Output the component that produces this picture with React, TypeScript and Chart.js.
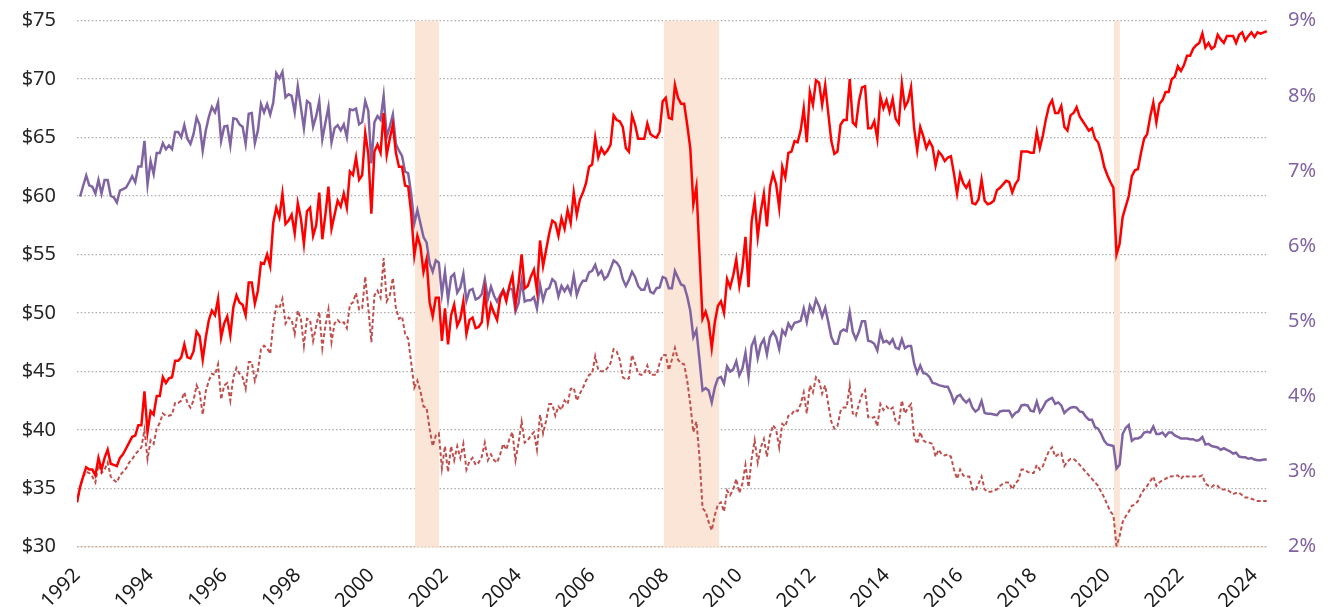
import React, { useEffect, useRef } from "react";
import { Chart, registerables } from "chart.js";

Chart.register(...registerables);

// ---------- data ----------
const START_YEAR = 1992;
const X_MIN = 1992;
const X_MAX = 2024.34;

const yearTicks = [1992, 1994, 1996, 1998, 2000, 2002, 2004, 2006, 2008, 2010, 2012, 2014, 2016, 2018, 2020, 2022, 2024];
const dollarTicks = [30, 35, 40, 45, 50, 55, 60, 65, 70, 75];
const percentTicks = [2, 3, 4, 5, 6, 7, 8, 9];

const recessionStart = [2001.18, 2007.95, 2020.18];
const recessionEnd = [2001.84, 2009.45, 2020.34];

// monthly values from Jan 1992 (left axis, $)
const redSeries = [
  33.8, 35.1, 36.0, 36.8, 36.6, 36.6, 36.1, 37.6, 36.6, 37.6, 38.3, 37.1,
  37.0, 36.9, 37.6, 37.9, 38.4, 38.9, 39.4, 39.5, 40.4, 40.4, 43.3, 39.8,
  41.6, 41.3, 42.9, 42.9, 44.5, 44.0, 44.4, 44.5, 45.9, 45.9, 46.2, 47.3,
  46.2, 46.1, 46.7, 48.4, 48.0, 46.0, 47.9, 49.4, 50.2, 49.8, 51.2, 47.9,
  49.1, 49.7, 48.1, 50.5, 51.5, 50.9, 50.7, 49.8, 52.6, 52.6, 50.8, 51.9,
  54.3, 54.2, 55.0, 54.0, 57.7, 59.0, 58.2, 60.2, 57.6, 57.9, 58.4, 56.8,
  59.4, 58.1, 55.9, 58.7, 59.0, 56.6, 57.5, 60.3, 56.3, 58.4, 60.8, 57.2,
  58.4, 59.6, 59.1, 60.2, 59.0, 62.1, 61.8, 63.3, 61.4, 61.8, 65.4, 63.6,
  58.5, 63.8, 64.4, 63.7, 67.1, 63.5, 64.9, 66.1, 63.7, 62.5, 62.5, 60.9,
  60.8, 58.5, 54.9, 56.6, 55.7, 53.5, 54.6, 50.9, 49.7, 51.3, 51.3, 47.6,
  50.4, 47.3, 49.8, 50.7, 48.9, 49.5, 51.0, 48.2, 49.4, 49.6, 48.7, 48.8,
  49.2, 51.8, 49.2, 50.7, 50.0, 49.4, 51.3, 51.9, 51.0, 52.3, 53.2, 50.7,
  52.5, 55.0, 52.1, 52.3, 53.1, 53.7, 51.9, 56.2, 54.0, 55.4, 56.8, 57.9,
  57.7, 56.6, 58.1, 57.2, 58.8, 57.7, 60.3, 58.4, 59.7, 60.3, 61.1, 62.5,
  62.7, 65.0, 63.3, 64.1, 63.6, 63.9, 64.4, 66.9, 66.5, 66.4, 65.9, 64.1,
  63.8, 66.9, 66.1, 64.9, 64.9, 64.9, 66.2, 65.3, 65.1, 65.0, 65.5, 68.1,
  68.4, 66.7, 66.6, 69.5, 68.4, 67.9, 67.9, 66.1, 64.1, 59.3, 60.8, 55.1,
  49.5, 50.1, 49.2, 47.0, 49.2, 50.6, 51.0, 50.0, 52.9, 52.2, 53.2, 54.6,
  52.3, 53.8, 56.5, 52.2, 57.8, 59.6, 56.5, 58.7, 60.2, 57.4, 60.8, 61.9,
  61.0, 59.0, 62.5, 61.6, 63.7, 63.8, 64.7, 64.6, 65.6, 67.5, 64.6, 68.9,
  67.8, 69.9, 69.7, 67.8, 69.5, 67.1, 64.7, 63.6, 63.8, 66.1, 66.5, 66.5,
  70.0, 66.3, 66.0, 68.1, 69.3, 69.4, 65.8, 65.8, 66.4, 64.9, 68.5, 67.5,
  68.2, 67.2, 68.3, 66.6, 66.2, 69.6, 67.6, 68.1, 69.3, 65.8, 63.9, 65.9,
  65.1, 64.1, 64.7, 64.2, 62.6, 63.8, 63.5, 63.0, 63.3, 63.4, 61.9, 60.2,
  61.9, 61.1, 60.7, 61.2, 59.4, 59.3, 59.7, 61.4, 59.6, 59.3, 59.4, 59.6,
  60.5, 60.7, 61.0, 61.3, 61.2, 60.3, 61.0, 61.4, 63.8, 63.8, 63.8, 63.7,
  63.7, 65.5, 64.1, 65.2, 66.6, 67.7, 68.2, 67.1, 67.1, 67.7, 65.9, 65.6,
  66.9, 67.1, 67.6, 66.8, 66.4, 66.0, 65.6, 65.8, 64.9, 64.6, 63.7, 62.5,
  61.8, 61.2, 60.7, 55.0, 55.9, 58.2, 59.1, 60.0, 61.7, 62.2, 62.3, 63.7,
  64.9, 65.3, 66.8, 68.0, 66.3, 67.9, 68.2, 68.9, 68.9, 70.0, 70.2, 71.1,
  70.7, 71.2, 72.0, 72.0, 72.6, 72.9, 73.1, 73.9, 72.7, 73.1, 72.6, 72.8,
  73.8, 73.4, 73.1, 73.7, 73.7, 73.7, 73.1, 73.8, 74.0, 73.3, 73.7, 74.0,
  73.6, 74.0, 73.9, 74.0, 74.1,
];

// monthly values from Jan 1992 (right axis, %)
const purpleSeries = [
  null, 6.66, 6.80, 6.94, 6.81, 6.79, 6.70, 6.88, 6.70, 6.88, 6.88, 6.67,
  6.65, 6.58, 6.74, 6.76, 6.78, 6.85, 6.93, 6.85, 7.06, 7.06, 7.40, 6.82,
  7.13, 6.96, 7.24, 7.24, 7.37, 7.29, 7.34, 7.29, 7.52, 7.52, 7.45, 7.61,
  7.43, 7.36, 7.49, 7.71, 7.61, 7.27, 7.54, 7.72, 7.85, 7.78, 7.91, 7.40,
  7.59, 7.60, 7.34, 7.70, 7.69, 7.62, 7.59, 7.36, 7.76, 7.77, 7.37, 7.54,
  7.89, 7.78, 7.89, 7.75, 7.91, 8.30, 8.23, 8.32, 7.98, 8.02, 8.00, 7.78,
  8.13, 7.85, 7.57, 7.93, 7.90, 7.59, 7.73, 7.93, 7.42, 7.64, 7.85, 7.38,
  7.57, 7.61, 7.54, 7.62, 7.45, 7.82, 7.81, 7.83, 7.62, 7.65, 7.93, 7.80,
  7.10, 7.65, 7.73, 7.68, 8.00, 7.45, 7.59, 7.75, 7.36, 7.27, 7.20, 6.99,
  6.97, 6.69, 6.30, 6.48, 6.30, 6.12, 6.05, 5.77, 5.66, 5.81, 5.78, 5.36,
  5.66, 5.29, 5.59, 5.63, 5.38, 5.45, 5.63, 5.27, 5.41, 5.43, 5.29, 5.31,
  5.36, 5.56, 5.30, 5.46, 5.34, 5.26, 5.35, 5.42, 5.33, 5.44, 5.42, 5.13,
  5.24, 5.54, 5.26, 5.28, 5.28, 5.32, 5.17, 5.49, 5.28, 5.42, 5.44, 5.56,
  5.52, 5.33, 5.47, 5.40, 5.47, 5.37, 5.61, 5.35, 5.47, 5.54, 5.54, 5.65,
  5.67, 5.75, 5.62, 5.67, 5.56, 5.60, 5.70, 5.81, 5.78, 5.72, 5.56, 5.47,
  5.55, 5.66, 5.59, 5.47, 5.42, 5.42, 5.54, 5.39, 5.37, 5.44, 5.45, 5.59,
  5.57, 5.44, 5.44, 5.67, 5.58, 5.49, 5.47, 5.33, 5.14, 4.79, 4.88, 4.49,
  4.08, 4.11, 4.08, 3.92, 4.12, 4.24, 4.26, 4.17, 4.40, 4.33, 4.36, 4.47,
  4.28, 4.37, 4.58, 4.26, 4.67, 4.77, 4.51, 4.69, 4.76, 4.56, 4.79, 4.86,
  4.79, 4.63, 4.88, 4.82, 4.97, 4.90, 4.98, 4.99, 5.01, 5.17, 4.99, 5.21,
  5.13, 5.29, 5.20, 5.06, 5.18, 4.99, 4.79, 4.70, 4.70, 4.86, 4.89, 4.87,
  5.12, 4.86, 4.76, 4.86, 5.00, 5.00, 4.74, 4.73, 4.70, 4.61, 4.85, 4.72,
  4.74, 4.70, 4.76, 4.65, 4.63, 4.76, 4.64, 4.67, 4.67, 4.44, 4.31, 4.41,
  4.31, 4.30, 4.26, 4.18, 4.17, 4.15, 4.14, 4.13, 4.13, 4.04, 3.92, 4.00,
  4.02, 3.96, 3.92, 3.96, 3.85, 3.80, 3.83, 3.94, 3.78, 3.77, 3.77, 3.76,
  3.75, 3.80, 3.81, 3.81, 3.81, 3.73, 3.78, 3.80, 3.88, 3.89, 3.88, 3.81,
  3.80, 3.93, 3.79, 3.85, 3.93, 3.96, 3.98, 3.90, 3.92, 3.88, 3.78, 3.82,
  3.85, 3.86, 3.85, 3.80, 3.79, 3.73, 3.69, 3.69, 3.59, 3.57, 3.50, 3.41,
  3.36, 3.35, 3.34, 3.04, 3.09, 3.50, 3.58, 3.62, 3.41, 3.44, 3.44, 3.46,
  3.52, 3.53, 3.52, 3.60, 3.50, 3.50, 3.52, 3.47, 3.52, 3.52, 3.48, 3.46,
  3.44, 3.44, 3.44, 3.43, 3.43, 3.41, 3.42, 3.46, 3.36, 3.37, 3.34, 3.33,
  3.32, 3.29, 3.31, 3.29, 3.27, 3.24, 3.25, 3.20, 3.19, 3.19, 3.17, 3.18,
  3.16, 3.15, 3.15, 3.16, 3.16,
];

// monthly values from Jan 1992 (left axis, $) — dashed series
const dashedSeries = [
  33.8, 35.1, 36.0, 36.4, 36.3, 36.0, 35.5, 37.0, 36.3, 36.6, 37.2, 36.0,
  35.7, 35.5, 36.1, 36.4, 36.7, 37.2, 37.5, 37.9, 38.2, 38.5, 40.0, 37.5,
  39.1, 38.8, 40.1, 40.6, 41.4, 41.2, 41.2, 41.3, 42.3, 42.3, 42.5, 43.2,
  42.3, 41.9, 42.5, 43.8, 43.2, 41.3, 43.3, 44.2, 44.8, 44.7, 45.6, 42.6,
  43.8, 44.0, 42.5, 44.5, 45.3, 44.8, 44.5, 43.5, 45.8, 45.8, 44.2, 45.1,
  46.9, 47.2, 47.0, 46.5, 49.0, 50.6, 50.4, 51.2, 49.1, 49.6, 49.4, 48.2,
  50.2, 49.5, 47.2, 49.5, 49.4, 47.6, 48.9, 50.1, 47.0, 48.9, 50.3, 47.5,
  49.1, 49.4, 49.1, 49.2, 48.7, 50.7, 50.9, 51.7, 50.3, 50.4, 53.1, 50.4,
  47.5, 51.5, 51.9, 51.3, 54.7, 51.0, 51.5, 53.0, 50.4, 49.5, 49.7, 48.2,
  47.8, 45.7, 43.6, 44.2, 43.3, 42.0, 41.9, 40.1, 38.6, 39.5, 39.7, 36.7,
  38.6, 36.4, 38.6, 37.4, 38.6, 37.6, 38.8, 36.6, 37.3, 37.6, 37.0, 37.2,
  37.7, 38.9, 37.4, 37.9, 37.4, 37.2, 37.9, 38.8, 38.3, 39.2, 39.8, 37.4,
  38.9, 40.7, 38.9, 39.1, 39.5, 39.8, 38.3, 41.3, 39.7, 40.8, 42.2, 42.2,
  41.2, 42.0, 41.7, 42.5, 42.2, 43.5, 43.6, 42.5, 43.1, 43.6, 44.2, 44.7,
  44.8, 46.3, 45.1, 45.0, 45.0, 45.3, 45.7, 46.9, 46.7, 46.0, 44.5, 44.3,
  44.4, 46.4, 45.7, 44.8, 44.7, 44.8, 45.5, 44.7, 44.7, 44.7, 45.7, 46.4,
  46.4, 45.1, 46.0, 47.0, 46.0, 45.7, 45.6, 44.2, 42.2, 39.8, 40.7, 37.7,
  33.3, 33.0, 32.1, 31.4, 32.7, 33.6, 33.8, 33.0, 34.8, 34.4, 34.9, 35.8,
  34.6, 35.4, 37.0, 35.1, 37.5, 39.1, 37.2, 38.5, 39.2, 37.7, 39.5, 40.4,
  40.0, 38.5, 40.5, 40.3, 41.2, 41.3, 41.7, 41.6, 42.2, 43.2, 41.4, 43.8,
  43.2, 44.5, 44.2, 43.1, 43.8, 42.2, 40.7, 40.1, 40.3, 41.6, 41.9, 41.9,
  43.8, 41.4, 41.2, 42.2, 43.0, 43.4, 41.1, 41.0, 41.1, 40.3, 42.2, 41.7,
  42.0, 41.7, 41.9, 40.7, 40.5, 42.5, 41.4, 41.9, 42.2, 39.4, 38.8, 39.8,
  39.1, 38.9, 38.9, 38.8, 37.7, 38.3, 37.9, 37.8, 37.9, 37.7, 36.6, 35.8,
  36.6, 36.1, 36.0, 36.0, 34.9, 34.8, 35.4, 36.0, 34.9, 34.7, 34.7, 34.8,
  34.9, 35.2, 35.4, 35.5, 35.5, 34.9, 35.4, 35.7, 36.6, 36.6, 36.4, 36.3,
  36.3, 37.0, 36.6, 36.9, 37.6, 38.2, 38.5, 37.7, 37.9, 38.0, 36.9, 37.3,
  37.5, 37.5, 37.3, 37.0, 36.7, 36.4, 36.1, 35.8, 35.5, 35.2, 34.7, 34.2,
  33.6, 33.0, 32.7, 30.05, 30.9, 32.1, 32.6, 33.0, 33.5, 33.6, 33.9, 34.5,
  34.9, 35.2, 35.6, 36.0, 35.2, 35.5, 35.7, 35.8, 36.0, 36.0, 36.1, 36.1,
  35.8, 36.1, 36.0, 36.0, 36.0, 36.0, 36.0, 36.1, 35.4, 35.2, 35.1, 35.3,
  35.2, 34.9, 34.9, 34.9, 34.7, 34.5, 34.6, 34.6, 34.4, 34.2, 34.2, 34.1,
  34.0, 33.9, 33.9, 33.9, 33.9,
];

// ---------- styling ----------
const RED = "#ff0000";
const PURPLE = "#8064a2";
const DASHED = "#c0504d";
const SHADE = "#fbe5d6";
const FONT = "'Noto Sans', 'Liberation Sans', sans-serif";

const toPoints = (arr: (number | null)[]) =>
  arr.map((v, i) => ({ x: START_YEAR + i / 12, y: v }));

const shadePlugin = {
  id: "recessionShade",
  beforeDraw(chart: any) {
    const { ctx, chartArea: a } = chart;
    ctx.save();
    ctx.fillStyle = SHADE;
    ctx.fillRect(a.left, a.bottom - 0.5, a.right - a.left, 1.5);
    ctx.restore();
  },
  beforeDatasetsDraw(chart: any) {
    const { ctx, chartArea: a, scales } = chart;
    const xs = scales.x;
    ctx.save();
    ctx.fillStyle = SHADE;
    recessionStart.forEach((s, i) => {
      const x0 = xs.getPixelForValue(s);
      const x1 = xs.getPixelForValue(recessionEnd[i]);
      ctx.fillRect(x0, a.top, x1 - x0, a.bottom - a.top);
    });
    ctx.restore();
  },
};

export default function App() {
  const ref = useRef<HTMLCanvasElement | null>(null);

  useEffect(() => {
    if (!ref.current) return;
    Chart.defaults.font.family = FONT;
    const chart = new Chart(ref.current, {
      type: "line",
      data: {
        datasets: [
          {
            data: toPoints(redSeries) as any,
            borderColor: RED,
            borderWidth: 2.5,
            yAxisID: "y",
            pointRadius: 0,
            tension: 0,
          },
          {
            data: toPoints(purpleSeries) as any,
            borderColor: PURPLE,
            borderWidth: 2.5,
            yAxisID: "y1",
            pointRadius: 0,
            tension: 0,
          },
          {
            data: toPoints(dashedSeries) as any,
            borderColor: DASHED,
            borderWidth: 2,
            borderDash: [4, 2.5],
            yAxisID: "y",
            pointRadius: 0,
            tension: 0,
          },
        ],
      },
      options: {
        responsive: false,
        animation: false,
        events: [],
        layout: { padding: { top: 20.7, left: 0, right: 0, bottom: 0 } },
        plugins: {
          legend: { display: false },
          tooltip: { enabled: false },
        },
        scales: {
          x: {
            type: "linear",
            min: X_MIN,
            max: X_MAX,
            afterBuildTicks: (s: any) => {
              s.ticks = yearTicks.map((v) => ({ value: v }));
            },
            afterFit: (s: any) => {
              s.height = 60.3;
            },
            grid: { display: false, drawTicks: false },
            border: { display: false },
            ticks: {
              autoSkip: false,
              maxRotation: 45,
              minRotation: 45,
              padding: 17,
              color: "#1a1a1a",
              font: { size: 20, family: FONT },
              callback: (v: any) => String(v),
            },
          },
          y: {
            position: "left",
            min: 30,
            max: 75,
            afterBuildTicks: (s: any) => {
              s.ticks = dollarTicks.map((v) => ({ value: v }));
            },
            afterFit: (s: any) => {
              s.width = 77;
              s.paddingTop = 0;
              s.paddingBottom = 0;
            },
            grid: { color: "#ababab", lineWidth: 1.3, drawTicks: false },
            border: { display: false, dash: [1.5, 2.2] },
            ticks: {
              padding: 21,
              color: "#262626",
              font: { size: 20, family: FONT },
              callback: (v: any) => "$" + v,
            },
          },
          y1: {
            position: "right",
            min: 2,
            max: 9,
            afterBuildTicks: (s: any) => {
              s.ticks = percentTicks.map((v) => ({ value: v }));
            },
            afterFit: (s: any) => {
              s.width = 65;
              s.paddingTop = 0;
              s.paddingBottom = 0;
            },
            grid: { drawOnChartArea: false, drawTicks: false },
            border: { display: false },
            ticks: {
              padding: 21,
              color: PURPLE,
              font: { size: 20, family: FONT },
              callback: (v: any) => v + "%",
            },
          },
        },
      } as any,
      plugins: [shadePlugin],
    });
    return () => chart.destroy();
  }, []);

  return (
    <div
      style={{
        position: "absolute",
        left: 0,
        top: 0,
        width: 1332,
        height: 607,
        background: "#ffffff",
      }}
    >
      <canvas ref={ref} width={1332} height={607} style={{ display: "block" }} />
    </div>
  );
}
